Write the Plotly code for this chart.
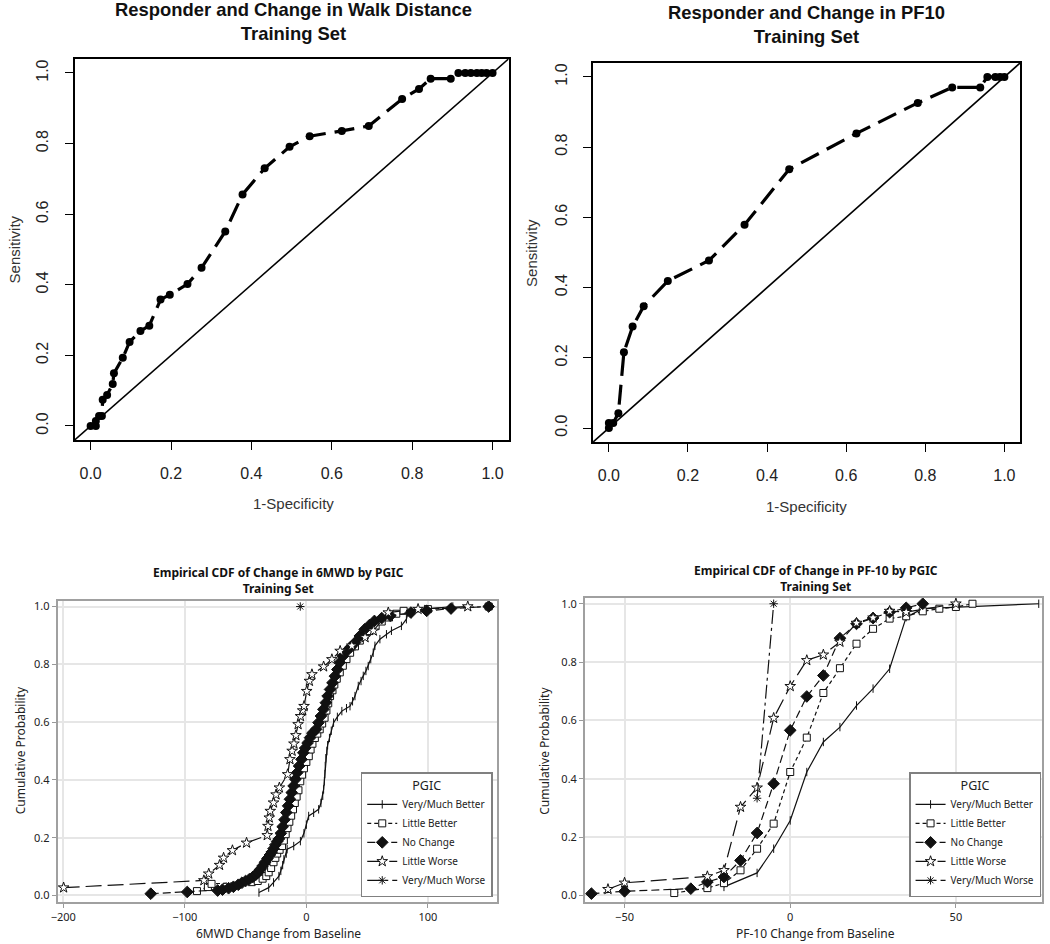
import plotly.graph_objects as go

# ---------------- ROC curves (top row) ----------------
walk_fpr = [0.0, 0.013, 0.013, 0.021, 0.028, 0.030, 0.041, 0.055, 0.058, 0.080, 0.097,
            0.124, 0.146, 0.174, 0.197, 0.241, 0.276, 0.335, 0.378, 0.433, 0.495, 0.545,
            0.625, 0.692, 0.775, 0.817, 0.846, 0.896, 0.915, 0.932, 0.946, 0.961, 0.973,
            0.985, 1.0]
walk_tpr = [0.0, 0.0, 0.014, 0.028, 0.028, 0.074, 0.088, 0.119, 0.149, 0.193, 0.238,
            0.269, 0.284, 0.358, 0.372, 0.402, 0.448, 0.551, 0.656, 0.730, 0.791, 0.821,
            0.836, 0.850, 0.926, 0.955, 0.984, 0.984, 1.0, 1.0, 1.0, 1.0, 1.0,
            1.0, 1.0]

pf10_fpr = [0.0, 0.0, 0.011, 0.024, 0.038, 0.060, 0.088, 0.149, 0.253, 0.343, 0.456,
            0.626, 0.781, 0.868, 0.939, 0.957, 0.977, 0.989, 1.0]
pf10_tpr = [0.0, 0.014, 0.014, 0.042, 0.216, 0.289, 0.347, 0.419, 0.477, 0.579, 0.737,
            0.839, 0.926, 0.970, 0.970, 1.0, 1.0, 1.0, 1.0]

roc_ticks = [0.0, 0.2, 0.4, 0.6, 0.8, 1.0]
roc_range = [-0.04, 1.04]

# ---------------- ECDF of 6MWD change (bottom left) ----------------
groups = ["Very/Much Better", "Little Better", "No Change", "Little Worse", "Very/Much Worse"]

mwd_vmb_x = [-39, -31, -27, -22.6, -21, -19.5, -18.5, -16.5, -15.8, -10.4, -4.9, -2, 0, 1.9,
             6, 10.1, 12, 13.5, 14.2, 14.8, 15.2, 15.5, 16, 16.9, 17.5, 19, 20.5, 22.4, 25.5,
             29.2, 33, 35.9, 38, 40, 42.7, 45, 46.8, 49, 50.9, 53, 55, 56.4, 60.5, 65.9, 70,
             78.2, 82.3, 83.6, 97.3, 120.5]
mwd_vmb_y = [0.010, 0.027, 0.045, 0.067, 0.085, 0.105, 0.125, 0.145, 0.160, 0.171, 0.188,
             0.215, 0.245, 0.275, 0.286, 0.298, 0.320, 0.345, 0.367, 0.395, 0.420, 0.448,
             0.475, 0.500, 0.520, 0.545, 0.570, 0.598, 0.618, 0.638, 0.648, 0.655, 0.672,
             0.690, 0.725, 0.742, 0.760, 0.777, 0.794, 0.818, 0.840, 0.864, 0.887, 0.904,
             0.916, 0.933, 0.956, 0.979, 0.991, 1.0]

mwd_lb_x = [-90, -81, -78, -45, -40, -36, -33, -31, -29, -27, -25.5, -24, -22, -20, -18.5,
            -17, -15.5, -14, -12.5, -11, -9.5, -8, -6.5, -5, -3.5, -2, 0, 2, 3.5, 5, 7, 9,
            11, 13, 15, 16.5, 18, 19.5, 21.5, 23, 25, 27.5, 30, 33, 36, 40, 44, 48, 52, 57,
            62, 68, 74, 80, 100, 150]
mwd_lb_y = [0.015, 0.029, 0.040, 0.046, 0.050, 0.058, 0.067, 0.080, 0.095, 0.115, 0.130,
            0.145, 0.158, 0.171, 0.190, 0.212, 0.233, 0.255, 0.276, 0.298, 0.320, 0.342,
            0.364, 0.395, 0.418, 0.440, 0.462, 0.482, 0.505, 0.525, 0.545, 0.560, 0.575,
            0.595, 0.615, 0.640, 0.665, 0.690, 0.710, 0.730, 0.750, 0.772, 0.795, 0.818,
            0.840, 0.862, 0.882, 0.900, 0.915, 0.932, 0.948, 0.962, 0.975, 0.985, 0.991, 1.0]

mwd_nc_x = [-128, -98, -73, -69, -64, -60, -56, -53, -50, -47, -44, -41.5, -40, -38, -36,
            -34, -32, -30, -28.5, -27, -25.5, -24, -22.5, -21, -19.5, -18, -16.5, -15,
            -13.5, -12, -10.5, -9, -7.5, -6, -4, -2.5, -1, 1, 3, 5, 8, 10, 12, 14, 16, 17.5,
            19.5, 21.5, 23.5, 25.5, 27.5, 30, 33, 36.5, 40, 44, 48, 52, 56, 62, 69, 86, 99,
            119, 150]
mwd_nc_y = [0.006, 0.012, 0.017, 0.020, 0.025, 0.030, 0.037, 0.044, 0.050, 0.056, 0.064,
            0.072, 0.079, 0.090, 0.102, 0.115, 0.128, 0.140, 0.150, 0.162, 0.175, 0.187,
            0.196, 0.215, 0.238, 0.262, 0.287, 0.310, 0.333, 0.356, 0.379, 0.402, 0.425,
            0.448, 0.471, 0.494, 0.510, 0.528, 0.546, 0.562, 0.575, 0.598, 0.621, 0.644,
            0.667, 0.690, 0.713, 0.736, 0.759, 0.782, 0.806, 0.828, 0.845, 0.860, 0.875,
            0.898, 0.921, 0.936, 0.950, 0.960, 0.968, 0.979, 0.985, 0.993, 1.0]

mwd_lw_x = [-199.7, -84.3, -80.3, -71.4, -68.1, -60.8, -49.2, -32.2, -31.6, -30.5, -29.7,
            -27, -24.9, -22.2, -15.4, -13.5, -11.7, -10.2, -8.6, -6.8, -4.8, -3, -1.9, 0.3,
            2.5, 4.6, 14.2, 21, 27.8, 37.4, 48.3, 55.1, 67.4, 91.9, 132.8]
mwd_lw_y = [0.027, 0.052, 0.075, 0.105, 0.130, 0.156, 0.182, 0.208, 0.240, 0.269, 0.292,
            0.321, 0.349, 0.373, 0.419, 0.471, 0.500, 0.525, 0.554, 0.592, 0.620, 0.640,
            0.655, 0.707, 0.742, 0.765, 0.792, 0.817, 0.846, 0.864, 0.893, 0.916, 0.979,
            0.991, 1.0]

mwd_vmw_x = [-5]
mwd_vmw_y = [1.0]

mwd_ticks = [-200, -100, 0, 100]

# ---------------- ECDF of PF-10 change (bottom right) ----------------
pf_vmb_x = [-20, -10, -5, 0, 5, 10, 15, 20, 25, 30, 35, 40, 75]
pf_vmb_y = [0.029, 0.077, 0.160, 0.257, 0.423, 0.526, 0.577, 0.651, 0.709, 0.777, 0.954, 0.983, 1.0]

pf_lb_x = [-35, -25, -20, -15, -10, -5, 0, 5, 10, 15, 20, 25, 30, 35, 40, 45, 50, 55]
pf_lb_y = [0.008, 0.025, 0.042, 0.086, 0.160, 0.246, 0.423, 0.541, 0.694, 0.779, 0.863,
           0.914, 0.949, 0.957, 0.974, 0.983, 0.989, 1.0]

pf_nc_x = [-60, -50, -30, -25, -20, -15, -10, -5, 0, 5, 10, 15, 20, 25, 30, 35, 40]
pf_nc_y = [0.006, 0.014, 0.023, 0.046, 0.063, 0.120, 0.214, 0.383, 0.566, 0.682, 0.754,
           0.882, 0.931, 0.951, 0.971, 0.986, 1.0]

pf_lw_x = [-55, -50, -25, -20, -15, -10, -5, 0, 5, 10, 15, 20, 25, 30, 35, 50]
pf_lw_y = [0.021, 0.043, 0.065, 0.086, 0.303, 0.369, 0.608, 0.717, 0.806, 0.825, 0.869,
           0.934, 0.952, 0.975, 0.971, 1.0]

pf_vmw_x = [-10, -5]
pf_vmw_y = [0.333, 1.0]

pf_ticks = [-50, 0, 50]
cdf_ticks = [0.0, 0.2, 0.4, 0.6, 0.8, 1.0]

# ---------------- styles ----------------
R_FONT = "Liberation Sans, Arial, sans-serif"
SAS_FONT = "Noto Sans, Open Sans, sans-serif"
INK = "#111111"

# marker fill "white" = hollow symbol that hides the line under it
sas_styles = [
    dict(dash="solid", symbol="line-ns-open", size=6, fill=INK),
    dict(dash="4px,3px", symbol="square", size=7, fill="white"),
    dict(dash="8px,4px", symbol="diamond", size=9, fill=INK),
    dict(dash="16px,6px", symbol="star", size=8, fill="white"),
    dict(dash="14px,4px,3px,4px", symbol="asterisk-open", size=7, fill=INK),
]

fig = go.Figure()

# ROC traces
for (fx, ty, xa, ya) in [(walk_fpr, walk_tpr, "x", "y"), (pf10_fpr, pf10_tpr, "x2", "y2")]:
    fig.add_trace(go.Scatter(
        x=roc_range, y=roc_range, mode="lines", xaxis=xa, yaxis=ya,
        line=dict(color="black", width=1.6), showlegend=False, hoverinfo="skip"))
    fig.add_trace(go.Scatter(
        x=fx, y=ty, mode="lines+markers", xaxis=xa, yaxis=ya,
        line=dict(color="black", width=3.2, dash="20px,9px"),
        marker=dict(color="black", size=8), showlegend=False))

# ECDF traces
mwd_series = [(mwd_vmb_x, mwd_vmb_y), (mwd_lb_x, mwd_lb_y), (mwd_nc_x, mwd_nc_y),
              (mwd_lw_x, mwd_lw_y), (mwd_vmw_x, mwd_vmw_y)]
pf_series = [(pf_vmb_x, pf_vmb_y), (pf_lb_x, pf_lb_y), (pf_nc_x, pf_nc_y),
             (pf_lw_x, pf_lw_y), (pf_vmw_x, pf_vmw_y)]

for series, xa, ya, leg in [(mwd_series, "x3", "y3", "legend"), (pf_series, "x4", "y4", "legend2")]:
    for name, (sx, sy), st in zip(groups, series, sas_styles):
        fig.add_trace(go.Scatter(
            x=sx, y=sy, mode="lines+markers", name=name, xaxis=xa, yaxis=ya, legend=leg,
            line=dict(color=INK, width=1.2, dash=st["dash"]),
            marker=dict(symbol=st["symbol"], size=st["size"], color=st["fill"],
                        line=dict(color=INK, width=1))))

W, H = 1050, 944


def dom_x(a, b):
    return [a / W, b / W]


def dom_y(top, bottom):
    return [1 - bottom / H, 1 - top / H]


r_axis = dict(range=roc_range, tickvals=roc_ticks, tickformat=".1f", ticks="outside",
              ticklen=8, tickwidth=1.4, tickcolor="black", showline=True, mirror=True,
              linecolor="black", linewidth=1.6, showgrid=False, zeroline=False,
              tickfont=dict(family=R_FONT, size=16, color="#222"))

s_axis = dict(ticks="outside", ticklen=4, tickwidth=1, tickcolor="#999", showline=True,
              mirror=True, linecolor="#a0a0a0", linewidth=2, showgrid=True,
              gridcolor="#e6e6e6", gridwidth=1.5, zeroline=False,
              tickfont=dict(family=SAS_FONT, size=11, color="#222"))

legend_style = dict(title=dict(text="PGIC", side="top center", font=dict(family=SAS_FONT, size=12.5)),
                    font=dict(family=SAS_FONT, size=10, color="#222"),
                    y=1 - 897 / H, xanchor="right", yanchor="bottom",
                    bgcolor="white", bordercolor="#808080", borderwidth=1.5, tracegroupgap=0)

fig.update_layout(
    width=W, height=H, autosize=False,
    margin=dict(l=0, r=0, t=0, b=0),
    paper_bgcolor="white", plot_bgcolor="white",
    xaxis=dict(r_axis, domain=dom_x(68, 505), anchor="y", ticklabelstandoff=10),
    yaxis=dict(r_axis, domain=dom_y(57, 439), anchor="x", tickangle=-90, ticklabelstandoff=10),
    xaxis2=dict(r_axis, domain=dom_x(590, 1020), anchor="y2", ticklabelstandoff=10),
    yaxis2=dict(r_axis, domain=dom_y(61, 441), anchor="x2", tickangle=-90, ticklabelstandoff=10),
    xaxis3=dict(s_axis, domain=dom_x(51, 493), anchor="y3", range=[-204.6, 156.6],
                tickvals=mwd_ticks),
    yaxis3=dict(s_axis, domain=dom_y(600, 902), anchor="x3", range=[-0.023, 1.02],
                tickvals=cdf_ticks, tickformat=".1f"),
    xaxis4=dict(s_axis, domain=dom_x(582, 1042), anchor="y4", range=[-61.9, 76],
                tickvals=pf_ticks),
    yaxis4=dict(s_axis, domain=dom_y(597, 902), anchor="x4", range=[-0.023, 1.0206],
                tickvals=cdf_ticks, tickformat=".1f"),
    legend=dict(legend_style, x=489 / W),
    legend2=dict(legend_style, x=1041 / W),
)


def note(text, x, y, size, family, bold=False, angle=0, color="#111"):
    fig.add_annotation(text=f"<b>{text}</b>" if bold else text, x=x / W, y=1 - y / H,
                       xref="paper", yref="paper", showarrow=False, textangle=angle,
                       xanchor="center", yanchor="middle",
                       font=dict(family=family, size=size, color=color))


# titles
note("Responder and Change in Walk Distance<br>Training Set", 288, 20, 18.4, R_FONT, bold=True)
note("Responder and Change in PF10<br>Training Set", 805, 23, 18.4, R_FONT, bold=True)
note("Empirical CDF of Change in 6MWD by PGIC<br>Training Set", 273, 580, 12, SAS_FONT, bold=True)
note("Empirical CDF of Change in PF-10 by PGIC<br>Training Set", 814, 578, 12, SAS_FONT, bold=True)

# axis titles
note("1-Specificity", 288, 503, 15, R_FONT, color="#333")
note("Sensitivity", 8, 248, 15, R_FONT, angle=-90, color="#333")
note("1-Specificity", 805, 506, 15, R_FONT, color="#333")
note("Sensitivity", 528, 251, 15, R_FONT, angle=-90, color="#333")
note("6MWD Change from Baseline", 273, 933, 12, SAS_FONT, color="#222")
note("Cumulative Probability", 14, 750, 12, SAS_FONT, angle=-90, color="#222")
note("PF-10 Change from Baseline", 814, 933, 12, SAS_FONT, color="#222")
note("Cumulative Probability", 541, 750, 12, SAS_FONT, angle=-90, color="#222")

# the page body has a default 8px margin; drop it so the figure sits at the window corner
fig.write_html("out.html", config={"displayModeBar": False},
               post_script="document.body.style.margin='0';")
